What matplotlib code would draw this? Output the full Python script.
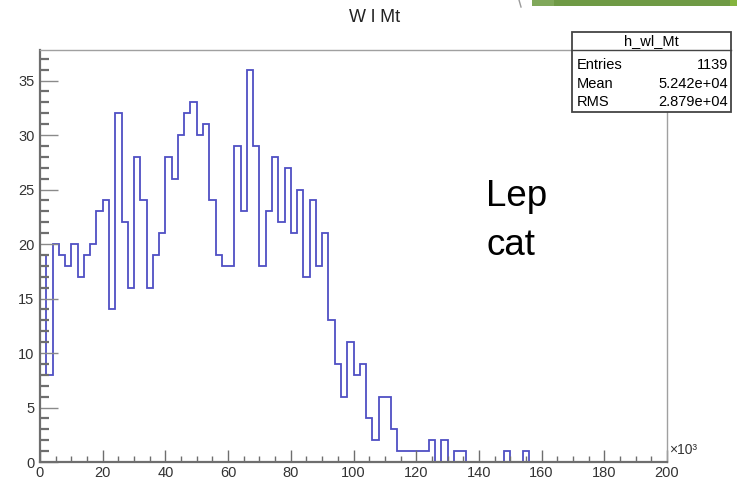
import matplotlib
matplotlib.use("Agg")
import matplotlib.pyplot as plt
import numpy as np
from matplotlib.patches import Rectangle
from matplotlib.lines import Line2D
from matplotlib.ticker import MultipleLocator

plt.rcParams['font.family'] = ['Liberation Sans Narrow', 'Liberation Sans', 'DejaVu Sans']

# bin edges in units of 10^3, 100 bins of width 2
edges = np.arange(0, 202, 2)
counts = [19, 8, 20, 19, 18, 20, 17, 19, 20, 23,
          24, 14, 32, 22, 16, 28, 24, 16, 19, 21,
          28, 26, 30, 32, 33, 30, 31, 24, 19, 18,
          18, 29, 23, 36, 29, 18, 23, 28, 22, 27,
          21, 25, 17, 24, 18, 21, 13, 9, 6, 11,
          8, 9, 4, 2, 6, 6, 3, 1, 1, 1,
          1, 1, 2, 0, 2, 0, 1, 1, 0, 0,
          0, 0, 0, 0, 1, 0, 0, 1, 0, 0,
          0, 0, 0, 0, 0, 0, 0, 0, 0, 0,
          0, 0, 0, 0, 0, 0, 0, 0, 0, 0]

title = "W l Mt"
hist_name = "h_wl_Mt"
stat_names = ["Entries", "Mean", "RMS"]
stat_values = ["1139", "5.242e+04", "2.879e+04"]

fig = plt.figure(figsize=(7.37, 4.88), dpi=100)
ax = fig.add_axes([40/737, 1-462/488, (667-40)/737, (462-50)/488])

ax.stairs(counts, edges, color="#4f4fc4", lw=1.3)
ax.set_xlim(0, 200)
ax.set_ylim(0, max(counts)*1.05)

axcol = "#6e6e6e"
for s in ["left", "bottom"]:
    ax.spines[s].set_color(axcol)
    ax.spines[s].set_linewidth(1.6)
for s in ["top", "right"]:
    ax.spines[s].set_color("#a0a0a0")
    ax.spines[s].set_linewidth(1.0)

ax.xaxis.set_major_locator(MultipleLocator(20))
ax.xaxis.set_minor_locator(MultipleLocator(5))
ax.yaxis.set_major_locator(MultipleLocator(5))
ax.yaxis.set_minor_locator(MultipleLocator(1))
ax.tick_params(axis="x", which="major", direction="in", length=8.5, width=1.0,
               color=axcol, labelsize=10.5, labelcolor="#333333", pad=3)
ax.tick_params(axis="x", which="minor", direction="in", length=4.5, width=1.0, color=axcol)
ax.tick_params(axis="y", which="major", direction="in", length=13, width=1.0,
               color="#8a8a8a", labelsize=10.5, labelcolor="#333333", pad=4)
ax.tick_params(axis="y", which="minor", direction="in", length=6.5, width=1.6, color=axcol)

fig.text(375/737, 1-17/488, title, ha="center", va="center", fontsize=13, color="#222222")
fig.text(669/737, 1-450/488, "×10³", ha="left", va="center", fontsize=10, color="#333333")

fig.text(486/737, 1-255/488, "Lep\ncat", ha="left", va="baseline", fontsize=26.5,
         family=["Liberation Sans", "DejaVu Sans"], linespacing=1.5, color="black")

# stats box
x0, x1 = 572/737, 731/737
ytop, ysep, ybot = 1-32/488, 1-50/488, 1-112/488
fig.patches.append(Rectangle((x0, ybot), x1-x0, ytop-ybot, transform=fig.transFigure,
                             facecolor="white", edgecolor="#444444", lw=1.3, zorder=5))
fig.lines.append(Line2D([x0, x1], [ysep, ysep], transform=fig.transFigure,
                        color="#444444", lw=1.0, zorder=6))
fig.text((x0+x1)/2, 1-41/488, hist_name, ha="center", va="center", fontsize=10.5, zorder=7)
for i, (n, v) in enumerate(zip(stat_names, stat_values)):
    yy = 1-(65+18.5*i)/488
    fig.text(577/737, yy, n, ha="left", va="center", fontsize=10.5, zorder=7)
    fig.text(728/737, yy, v, ha="right", va="center", fontsize=10.5, zorder=7)

# slide decoration at the top right
fig.patches.append(Rectangle((532/737, 1-6/488), (737-532)/737, 6/488,
                             transform=fig.transFigure, facecolor="#6f9a45",
                             edgecolor="none", zorder=3))
fig.patches.append(Rectangle((532/737, 1-6/488), 22/737, 6/488,
                             transform=fig.transFigure, facecolor="#80a85a",
                             edgecolor="none", zorder=4))
fig.patches.append(Rectangle((730/737, 1-6/488), 7/737, 6/488,
                             transform=fig.transFigure, facecolor="#84b43e",
                             edgecolor="none", zorder=4))
fig.lines.append(Line2D([519/737, 521/737], [1, 1-7/488], transform=fig.transFigure,
                        color="#9a9a9a", lw=1.0))

fig.savefig("out.png", dpi=100)
